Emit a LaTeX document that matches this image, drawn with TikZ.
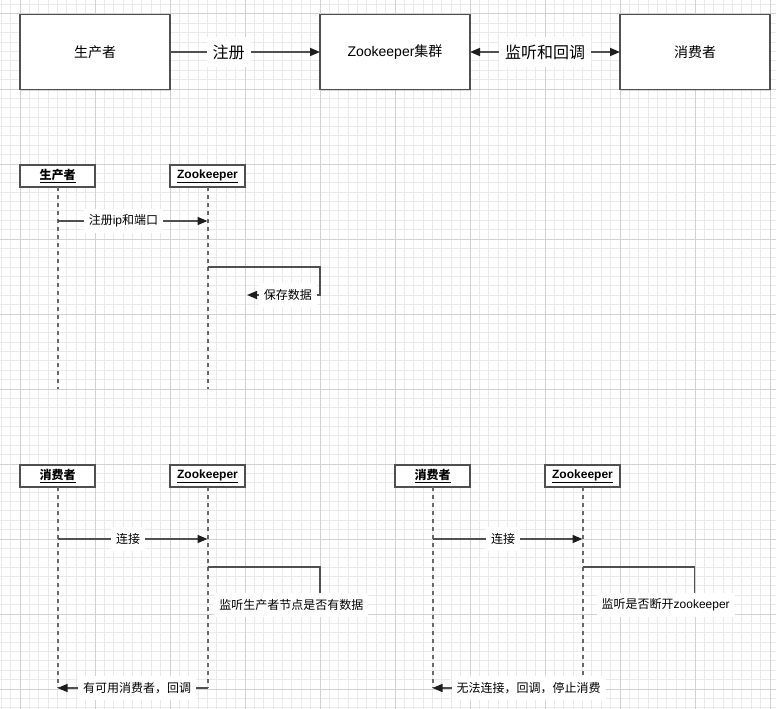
\documentclass[tikz,border=0pt]{standalone}
\usepackage{fontspec}
\setmainfont{Liberation Sans}
\newfontfamily\cjk{Noto Sans CJK SC}
\usepackage{tikz}
\usetikzlibrary{arrows.meta, shadows, positioning}
\definecolor{linegray}{RGB}{80,80,80}
\definecolor{tipgray}{RGB}{30,30,30}
\definecolor{dashgray}{RGB}{105,105,105}
\definecolor{minorgrid}{RGB}{234,234,234}
\definecolor{majorgrid}{RGB}{210,210,210}
\newcommand{\zhtxt}[1]{{\cjk #1}}
\tikzstyle{bigbox} = [rectangle, minimum width=150pt, minimum height=75pt, outer sep=0pt, draw=linegray, line width=1.8pt, fill=white, font=\fontsize{14}{16}\selectfont, drop shadow={opacity=0.3, shadow xshift=1pt, shadow yshift=-1pt}]
\tikzstyle{headbox} = [rectangle, minimum width=75pt, minimum height=22pt, outer sep=0pt, draw=linegray, line width=1.8pt, fill=white, font=\fontsize{12}{14}\selectfont\bfseries, drop shadow={opacity=0.3, shadow xshift=1pt, shadow yshift=-1pt}]
\tikzstyle{lifeline} = [dashgray, line width=2pt, dash pattern=on 4pt off 4pt]
\tikzstyle{arrow} = [linegray, line width=1.6pt, ->, >={Triangle[length=10pt,width=8pt,color=tipgray]}]
\tikzstyle{biglabel} = [fill=white, text=black, font=\fontsize{16}{18}\selectfont, inner xsep=6pt, inner ysep=8pt]
\tikzstyle{msglabel} = [fill=white, text=black, font=\fontsize{12}{14}\selectfont, inner xsep=5pt, inner ysep=6pt]
\begin{document}
\begin{tikzpicture}[x=1pt, y=-1pt, node distance=75pt]
\useasboundingbox (0,0) rectangle (776,709);
\fill[white] (0,0) rectangle (776,709);
% grid
\foreach \i in {-2,...,80} \draw[minorgrid, line width=1pt] ({20+9.375*\i},0) -- ({20+9.375*\i},709);
\foreach \i in {-2,...,73} \draw[minorgrid, line width=1pt] (0,{689-9.375*\i}) -- (776,{689-9.375*\i});
\foreach \i in {0,...,10} \draw[majorgrid, line width=1pt] ({20+75*\i},0) -- ({20+75*\i},709);
\foreach \i in {0,...,9} \draw[majorgrid, line width=1pt] (0,{689-75*\i}) -- (776,{689-75*\i});

% overview
\node [bigbox] (prod) at (95,52) {\zhtxt{生产者}};
\node [bigbox, right=150pt of prod] (zkc) {Zookeeper\zhtxt{集群}};
\node [bigbox, right=150pt of zkc] (cons) {\zhtxt{消费者}};
\draw [arrow] (prod) -- node[biglabel, pos=0.39] {\zhtxt{注册}} (zkc);
\draw [arrow, <->] (zkc) -- node[biglabel] {\zhtxt{监听和回调}} (cons);

% producer registration
\node [headbox] (p1) at (57.5,176) {\underline{\zhtxt{生产者}}};
\node [headbox, right=of p1] (z1) {\underline{Zookeeper}};
\coordinate (p1end) at (57.5,389);
\coordinate (z1end) at (207.5,389);
\draw [lifeline] (p1) -- (p1end);
\draw [lifeline] (z1) -- (z1end);
\coordinate (p1reg) at (57.5,221);
\coordinate (z1reg) at (207.5,221);
\draw [arrow] (p1reg) -- node[msglabel, pos=0.44] {\zhtxt{注册}ip\zhtxt{和端口}} (z1reg);
\coordinate (z1save) at (207.5,267);
\draw [arrow] (z1save) -| ++(112.5,28) -- node[msglabel, pos=0.44] {\zhtxt{保存数据}} ++(-73,0);

% consumer with available producer
\node [headbox] (c2) at (57.5,476) {\underline{\zhtxt{消费者}}};
\node [headbox, right=of c2] (z2) {\underline{Zookeeper}};
\coordinate (c2end) at (57.5,688);
\coordinate (z2end) at (207.5,688);
\draw [lifeline] (c2) -- (c2end);
\draw [lifeline] (z2) -- (z2end);
\coordinate (c2con) at (57.5,539);
\coordinate (z2con) at (207.5,539);
\draw [arrow] (c2con) -- node[msglabel, pos=0.47] {\zhtxt{连接}} (z2con);
\coordinate (z2watch) at (207.5,567);
\draw [arrow] (z2watch) -| ++(112.5,38) -- node[msglabel, pos=0.27] {\zhtxt{监听生产者节点是否有数据}} ++(-106,0);
\draw [arrow] (z2end) -- node[msglabel, pos=0.47] {\zhtxt{有可用消费者，回调}} (c2end);

% consumer losing connection
\node [headbox] (c3) at (432.5,476) {\underline{\zhtxt{消费者}}};
\node [headbox, right=of c3] (z3) {\underline{Zookeeper}};
\coordinate (c3end) at (432.5,688);
\coordinate (z3end) at (582.5,688);
\draw [lifeline] (c3) -- (c3end);
\draw [lifeline] (z3) -- (z3end);
\coordinate (c3con) at (432.5,539);
\coordinate (z3con) at (582.5,539);
\draw [arrow] (c3con) -- node[msglabel, pos=0.47] {\zhtxt{连接}} (z3con);
\coordinate (z3watch) at (582.5,567);
\draw [arrow] (z3watch) -| ++(112,38) -- node[msglabel, pos=0.4] {\zhtxt{监听是否断开}zookeeper} ++(-72,0);
\draw [arrow] (z3end) -- node[msglabel, pos=0.36] {\zhtxt{无法连接，回调，停止消费}} (c3end);
\end{tikzpicture}
\end{document}
